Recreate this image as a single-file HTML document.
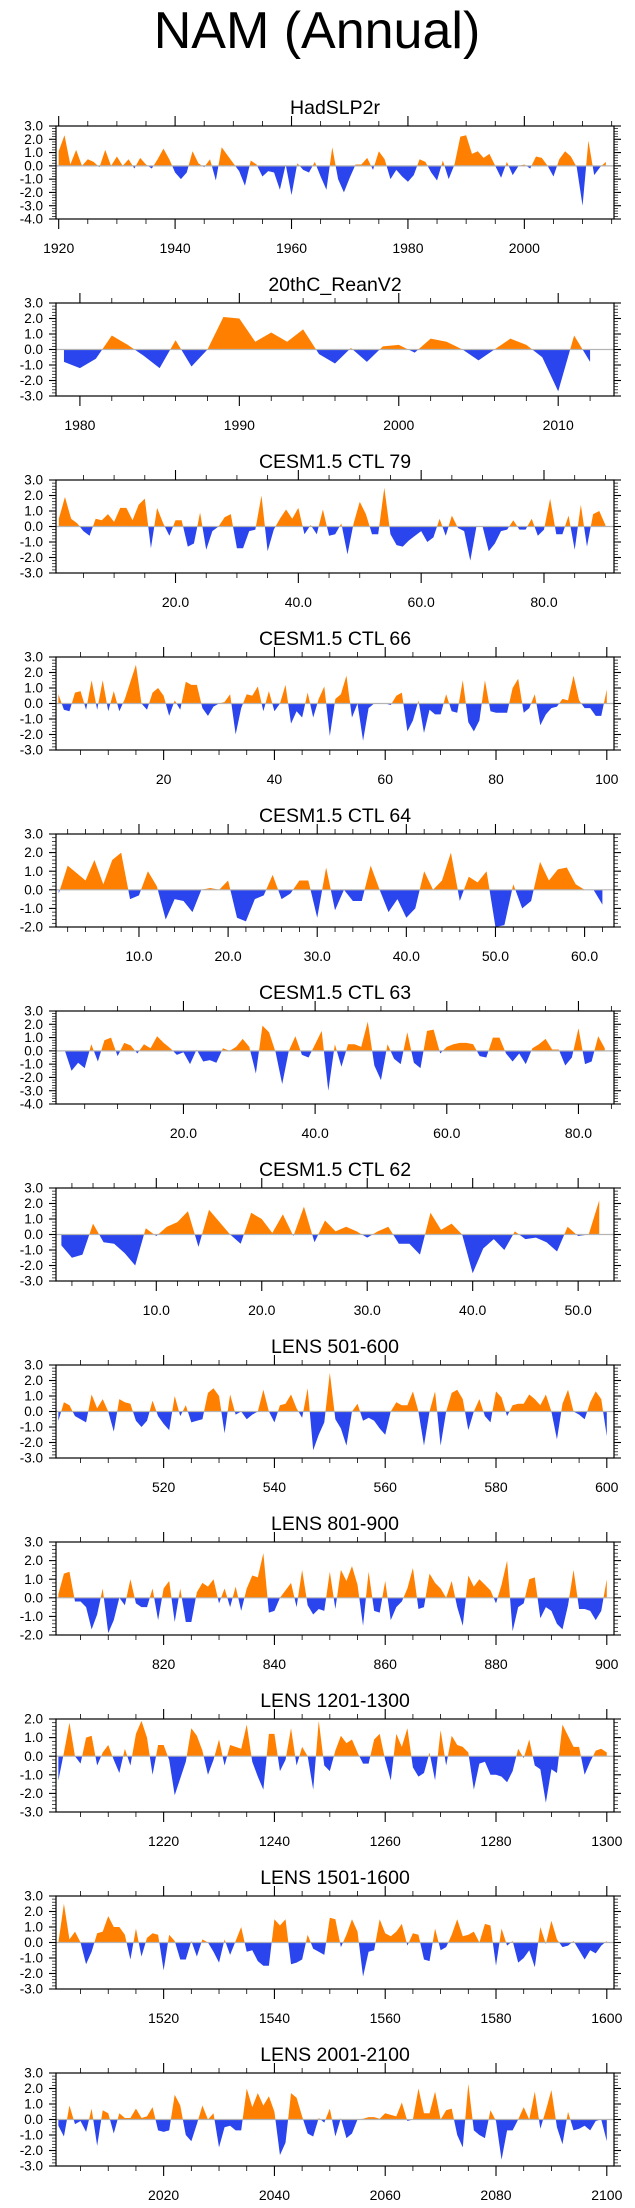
<!DOCTYPE html>
<html><head><meta charset="utf-8"><title>NAM (Annual)</title>
<style>
html,body{margin:0;padding:0;background:#fff;}
svg{display:block;font-family:"Liberation Sans",Arial,sans-serif;}
</style></head>
<body>
<svg id="chart" width="635" height="2208" viewBox="0 0 635 2208" xmlns="http://www.w3.org/2000/svg">
<text x="317" y="48" text-anchor="middle" font-size="52" fill="#000">NAM (Annual)</text>
</svg>
<script>
// ---- data ----
const titles = ["HadSLP2r","20thC_ReanV2","CESM1.5 CTL 79","CESM1.5 CTL 66","CESM1.5 CTL 64","CESM1.5 CTL 63","CESM1.5 CTL 62","LENS 501-600","LENS 801-900","LENS 1201-1300","LENS 1501-1600","LENS 2001-2100"];
const startX = [1920,1979,1,1,1,1,1,501,801,1201,1501,2001];
const yMax = [3,3,3,3,3,3,3,3,3,2,3,3];
const yMin = [-4,-3,-3,-3,-2,-4,-3,-3,-2,-3,-3,-3];
const xTickLabels = [
 ["1920","1940","1960","1980","2000"],
 ["1980","1990","2000","2010"],
 ["20.0","40.0","60.0","80.0"],
 ["20","40","60","80","100"],
 ["10.0","20.0","30.0","40.0","50.0","60.0"],
 ["20.0","40.0","60.0","80.0"],
 ["10.0","20.0","30.0","40.0","50.0"],
 ["520","540","560","580","600"],
 ["820","840","860","880","900"],
 ["1220","1240","1260","1280","1300"],
 ["1520","1540","1560","1580","1600"],
 ["2020","2040","2060","2080","2100"]];
const hadslp2r = [1.1,2.3,0.1,1.2,0.0,0.5,0.3,-0.1,1.2,0.0,0.7,0.0,0.5,-0.2,0.6,0.1,-0.2,0.5,1.3,0.5,
 -0.5,-1.0,-0.5,1.1,0.2,-0.1,0.5,-1.1,1.4,0.8,0.2,-0.4,-1.5,0.4,0.1,-0.8,-0.4,-0.5,-1.8,0.1,
 -2.2,0.2,-0.3,-0.5,0.3,-0.8,-1.8,1.4,-1.0,-2.0,-0.9,0.1,0.1,0.6,-0.3,1.1,0.5,-1.0,-0.3,-0.8,
 -1.2,-0.7,0.5,0.3,-0.5,-1.1,0.4,-1.0,0.1,2.2,2.3,0.9,1.1,0.6,0.9,0.0,-0.9,0.3,-0.7,0.0,
 0.1,-0.2,0.7,0.6,0.0,-0.8,0.5,1.1,0.7,-0.1,-3.0,1.9,-0.7,-0.1,0.3];
const reanV2 = [-0.8,-1.2,-0.6,0.9,0.3,-0.4,-1.2,0.6,-1.1,0.0,2.1,2.0,0.5,1.1,0.5,1.3,-0.3,-0.9,0.1,-0.8,0.2,0.3,-0.2,0.7,0.5,0.0,-0.7,0.0,0.7,0.3,-0.5,-2.7,0.9,-0.8];
const ctl79 = [0.5,1.9,0.5,0.2,-0.3,-0.6,0.5,0.4,0.8,0.3,1.2,1.2,0.4,1.4,1.8,-1.4,1.2,0.2,-0.6,0.4,
 0.4,-1.3,-1.1,0.9,-1.5,-0.3,0.0,0.6,0.8,-1.4,-1.4,-0.3,-0.2,2.0,-1.6,-0.2,0.5,1.1,0.5,1.2,
 -0.5,0.1,-0.5,1.1,-0.6,-0.5,0.2,-1.8,0.2,1.6,0.8,-0.5,-0.5,2.5,-0.5,-1.2,-1.3,-0.9,-0.6,-0.3,
 -1.0,-0.7,0.5,-0.6,0.7,-0.1,-0.3,-2.2,0.0,0.0,-1.6,-1.1,-0.3,-0.2,0.4,-0.2,-0.2,0.5,-0.6,-0.2,
 1.8,-0.5,-0.5,0.7,-1.5,1.4,-1.3,0.8,1.0,0.1];
const ctl66 = [0.6,-0.4,-0.5,0.7,0.8,-0.4,1.5,-0.4,1.5,-0.5,0.8,-0.5,0.3,1.4,2.5,0.0,-0.4,0.7,1.0,0.5,
 -0.8,0.2,-0.4,1.4,1.2,1.2,-0.3,-0.8,-0.2,0.0,0.1,0.6,-2.0,-0.3,0.6,0.5,1.1,-0.5,0.8,-0.5,
 0.0,1.2,-1.3,-0.5,-0.9,0.7,-0.9,0.3,1.1,-2.1,0.3,0.6,1.8,-0.9,0.0,-2.4,-0.3,0.0,0.0,0.0,
 -0.1,0.5,0.7,-1.8,-1.1,0.2,-1.9,-0.4,-0.7,-0.7,0.6,-0.5,-0.6,1.5,-1.2,-1.8,-1.1,1.5,-0.5,-0.6,
 -0.6,-0.6,1.0,1.6,-0.6,-0.3,0.6,-1.4,-0.7,-0.3,-0.2,0.3,0.2,1.8,0.2,-0.3,-0.3,-0.8,-0.8,0.9];
const ctl64 = [-0.2,1.3,0.9,0.5,1.6,0.3,1.6,2.0,-0.5,-0.3,1.0,0.2,-1.6,-0.5,-0.6,-1.2,0.0,0.1,0.0,0.5,
 -1.5,-1.7,-0.5,-0.3,0.8,-0.5,-0.2,0.5,0.5,-1.5,1.2,-1.1,0.0,-0.6,-0.6,1.3,0.0,-1.2,-0.5,-1.5,
 -1.0,1.0,0.0,0.5,2.0,-0.6,0.7,0.4,1.0,-2.0,-1.9,0.3,-1.0,-0.6,1.5,0.5,1.1,1.2,0.3,0.0,0.0,-0.8];
const ctl63 = [0.0,0.0,-1.5,-0.9,-1.3,0.5,-0.8,0.8,1.0,-0.4,0.6,0.4,-0.2,0.5,0.2,1.1,0.6,0.2,-0.3,-0.1,
 -1.0,0.1,-0.8,-0.7,-0.9,0.2,0.0,0.3,0.9,0.3,-1.7,1.9,1.4,-0.1,-2.5,0.0,1.1,-0.3,-0.5,0.5,
 1.5,-3.0,0.5,-1.2,0.5,0.5,0.3,2.2,-1.1,-2.2,0.5,-0.6,-1.0,1.4,-0.9,-1.3,1.5,1.6,-0.2,0.3,
 0.5,0.6,0.6,0.5,-0.4,-0.5,1.0,1.0,-0.2,-0.8,-0.2,-1.0,0.2,0.5,0.9,0.1,0.1,-1.1,-0.5,1.7,
 -1.0,-0.8,1.1,0.2];
const ctl62 = [-0.7,-1.5,-1.3,0.7,-0.5,-0.6,-1.2,-2.0,0.4,-0.1,0.5,0.8,1.5,-0.8,1.6,0.8,0.0,-0.6,1.4,1.0,
 0.1,1.3,-0.1,1.8,-0.5,0.9,0.2,0.5,0.2,-0.2,0.2,0.5,-0.6,-0.6,-1.3,1.4,0.3,0.7,0.0,-2.5,
 -0.9,-0.3,-1.0,0.2,-0.3,-0.2,-0.5,-1.1,0.5,-0.1,0.0,2.2];
const lens501 = [-0.6,0.6,0.4,-0.3,-0.5,-0.7,1.1,0.2,0.8,0.0,-1.3,0.8,0.6,0.5,-0.6,-1.0,-0.6,0.7,-0.3,-0.8,
 -1.2,1.0,-0.3,0.4,-0.7,-0.6,-0.5,1.2,1.5,1.0,-1.4,1.1,-0.2,0.0,-0.5,-0.2,0.0,1.4,0.0,-0.7,
 0.4,0.5,1.1,0.2,-0.4,1.5,-2.5,-1.5,-0.7,2.5,-0.5,-1.1,-2.2,0.0,0.5,-0.6,-0.4,-0.6,-1.1,-1.5,
 0.0,0.6,0.4,0.4,1.3,0.0,-2.2,0.0,1.3,-2.2,0.0,1.2,1.4,0.8,-1.2,0.0,0.8,-0.3,-0.7,1.3,
 0.9,-0.3,0.4,0.5,0.5,1.1,0.8,0.4,1.1,0.0,-1.8,0.5,1.4,0.0,-0.2,-0.5,0.6,1.3,0.8,-1.6];
const lens801 = [0.2,1.3,1.4,-0.2,-0.2,-0.5,-1.7,-0.9,0.5,-1.9,-1.2,0.0,-0.4,1.0,-0.3,-0.5,-0.5,0.5,-1.2,0.5,
 0.9,-1.3,0.5,-1.3,-1.3,0.3,0.8,0.6,1.0,-0.3,0.5,-0.5,0.6,-0.7,0.5,1.2,1.1,2.4,-0.8,-0.7,
 0.0,0.4,0.8,-0.5,1.5,-0.4,-0.9,-0.6,-0.7,1.4,-0.6,1.5,0.9,1.7,0.7,-1.5,1.4,-0.7,-0.8,0.9,
 -1.2,-0.5,-0.2,0.5,1.6,-0.6,-0.5,1.3,0.8,0.5,0.0,0.9,-0.5,-1.5,1.2,0.6,1.0,0.7,0.4,-0.3,
 0.7,2.0,-1.8,-0.5,-0.3,1.0,1.1,-1.1,-0.5,-0.7,-1.4,-1.7,-0.4,1.5,-0.6,-0.6,-0.7,-1.2,-0.7,1.0];
const lens1201 = [-1.3,0.2,1.8,0.0,-0.4,1.0,1.1,-0.5,0.2,0.6,-0.2,-0.9,0.4,-0.5,1.2,1.9,1.0,-1.0,0.6,0.6,
 -0.2,-2.1,-1.2,-0.3,1.5,1.1,0.3,-1.0,-0.2,0.9,-0.5,0.6,0.5,0.4,1.7,-0.3,-1.1,-1.8,1.2,1.2,
 -0.8,-0.2,1.5,-0.5,0.5,0.0,-1.8,1.9,-0.5,-0.8,0.3,1.1,0.7,0.9,0.2,-0.4,-0.4,0.9,1.2,-0.2,
 -1.3,1.2,0.5,1.5,-0.6,-1.1,-0.9,0.2,-1.3,1.4,-0.5,1.1,0.6,0.5,0.2,-1.8,-0.4,-0.3,-1.0,-1.0,
 -1.1,-1.4,-0.8,0.4,-0.1,0.9,-0.5,-0.7,-2.5,-0.7,-0.9,1.7,1.1,0.5,0.5,-1.0,-0.3,0.3,0.4,0.2];
const lens1501 = [0.0,2.5,0.2,0.7,0.0,-1.4,-0.6,0.6,0.7,1.7,1.0,1.0,0.5,-1.1,0.9,-0.9,0.3,0.6,0.5,-1.8,
 0.5,0.1,-1.1,-1.1,0.1,-0.9,0.2,0.0,-0.6,-1.3,0.2,-0.8,0.1,1.0,-0.6,-0.5,-1.2,-1.5,-1.5,1.5,
 1.1,1.5,-1.4,-1.3,-1.1,0.5,-0.4,-0.6,-0.8,1.6,1.5,-0.3,0.5,1.5,0.7,-2.2,-0.6,-0.5,1.5,0.6,
 0.4,0.7,1.2,-0.2,0.6,0.5,-1.1,-1.2,0.9,-0.5,-0.3,0.5,1.5,0.4,0.5,0.7,0.0,1.2,1.1,-1.5,
 0.9,-0.2,0.1,-1.3,-1.0,-0.5,-1.6,1.0,-0.1,1.4,0.2,-0.3,-0.2,0.1,-0.5,-1.1,-0.5,-0.7,-0.2,0.1];
const lens2001 = [-0.4,-1.1,0.9,-0.3,-0.1,-0.8,0.7,-1.7,0.6,0.4,-0.9,0.4,0.1,0.1,0.7,0.1,0.2,0.8,-0.7,-0.8,
 -0.7,1.6,0.9,-1.0,-1.4,-0.3,0.9,0.0,0.4,-1.8,-0.5,-0.4,-0.7,-0.7,2.0,0.8,1.7,0.9,1.5,0.5,
 -2.3,-1.5,1.7,1.4,0.2,-0.9,-1.1,0.1,-0.2,0.7,-1.1,0.1,-1.2,-0.9,0.0,0.05,0.15,0.15,0.05,0.4,
 0.3,0.2,1.1,-0.1,0.0,2.0,0.4,0.4,1.8,0.0,0.6,0.7,-1.0,-1.8,2.3,-0.7,-1.0,-1.2,0.6,-0.1,
 -2.6,-0.7,-0.7,0.0,0.8,0.0,1.8,-0.6,0.6,1.9,-0.5,-1.6,0.5,-0.7,-0.6,-0.4,-0.7,-0.1,0.0,-1.4];
const series = [hadslp2r,reanV2,ctl79,ctl66,ctl64,ctl63,ctl62,lens501,lens801,lens1201,lens1501,lens2001];

// ---- layout (not data) ----
const xDomMin = [1919.54,1978.5,0.54,0.57,0.69,0.64,0.49,500.57,800.57,1200.57,1500.57,2000.57];
const xDomMax = [2015.4,2013.5,91.4,101.3,63.3,85.4,53.4,601.3,901.3,1301.3,1601.3,2101.3];
const majorStep = [20,10,20,20,10,20,10,20,20,20,20,20];
const minorStep = [5,2,5,5,2,5,2,5,5,5,5,5];
const L=56, R=614, H=93, TOP0=126, GAP=177;
const NS="http://www.w3.org/2000/svg";
const svg=document.getElementById('chart');
function el(tag,attrs,parent){const e=document.createElementNS(NS,tag);for(const k in attrs)e.setAttribute(k,attrs[k]);(parent||svg).appendChild(e);return e;}

series.forEach((vals,p)=>{
  const T=TOP0+GAP*p, B=T+H;
  const g=el('g',{});
  
  
  const xs=v=>L+(v-xDomMin[p])/(xDomMax[p]-xDomMin[p])*(R-L);
  const ys=v=>T+(yMax[p]-v)/(yMax[p]-yMin[p])*H;
  const t=el('text',{x:(L+R)/2,y:T-12,'text-anchor':'middle','font-size':19.5,fill:'#000'},g);
  t.textContent=titles[p];
  
  
  const pts=[];
  for(let i=0;i<vals.length;i++){
    const x=startX[p]+i, v=vals[i];
    if(i>0){const v0=vals[i-1];if((v0>0&&v<0)||(v0<0&&v>0)){const f=v0/(v0-v);pts.push([x-1+f,0]);}}
    pts.push([x,v]);
  }
  const y0=ys(0);
  const first=xs(pts[0][0]), last=xs(pts[pts.length-1][0]);
  let dp='M'+first+','+y0, dn='M'+first+','+y0;
  pts.forEach(q=>{dp+=' L'+xs(q[0]).toFixed(2)+','+ys(Math.max(q[1],0)).toFixed(2);dn+=' L'+xs(q[0]).toFixed(2)+','+ys(Math.min(q[1],0)).toFixed(2);});
  dp+=' L'+last+','+y0+' Z'; dn+=' L'+last+','+y0+' Z';
  const ap=el('path',{d:dp,fill:'#ff8000',stroke:'none'},g);
  
  
  const an=el('path',{d:dn,fill:'#2a44ee',stroke:'none'},g);
  
  
  const zl=el('line',{x1:L,x2:R,y1:y0,y2:y0,stroke:'#b4b4b4','stroke-width':1.2},g);
  
  
  const fr=el('rect',{x:L,y:T,width:R-L,height:H,fill:'none',stroke:'#000','stroke-width':1.2},g);
  
  
  for(let v=yMin[p];v<=yMax[p]+1e-6;v+=0.2){
    const y=ys(v), major=Math.abs(v-Math.round(v))<1e-6, len=major?7:4;
    el('line',{x1:L-len,x2:L,y1:y,y2:y,stroke:'#000','stroke-width':major?1.1:0.7},g);
    el('line',{x1:R,x2:R+len,y1:y,y2:y,stroke:'#000','stroke-width':major?1.1:0.7},g);
    if(major){
      const lt=el('text',{x:43,y:y+4.6,'text-anchor':'end','font-size':13.5,fill:'#000'},g);
      lt.textContent=(Math.round(v)).toFixed(1);
      
      
    }
  }
  const s=Math.ceil(xDomMin[p]/minorStep[p])*minorStep[p];
  for(let v=s;v<=xDomMax[p];v+=minorStep[p]){
    const x=xs(v), major=(v%majorStep[p]===0), len=major?10:5;
    el('line',{x1:x,x2:x,y1:T-len,y2:T,stroke:'#000','stroke-width':major?1.1:0.8},g);
    el('line',{x1:x,x2:x,y1:B,y2:B+len,stroke:'#000','stroke-width':major?1.1:0.8},g);
  }
  let k=0;
  const ms=Math.ceil(xDomMin[p]/majorStep[p])*majorStep[p];
  for(let v=ms;v<=xDomMax[p];v+=majorStep[p]){
    if(k>=xTickLabels[p].length)break;
    const xt=el('text',{x:xs(v),y:B+34,'text-anchor':'middle','font-size':14,fill:'#000'},g);
    xt.textContent=xTickLabels[p][k++];
    
    
  }
});
</script>
</body></html>
